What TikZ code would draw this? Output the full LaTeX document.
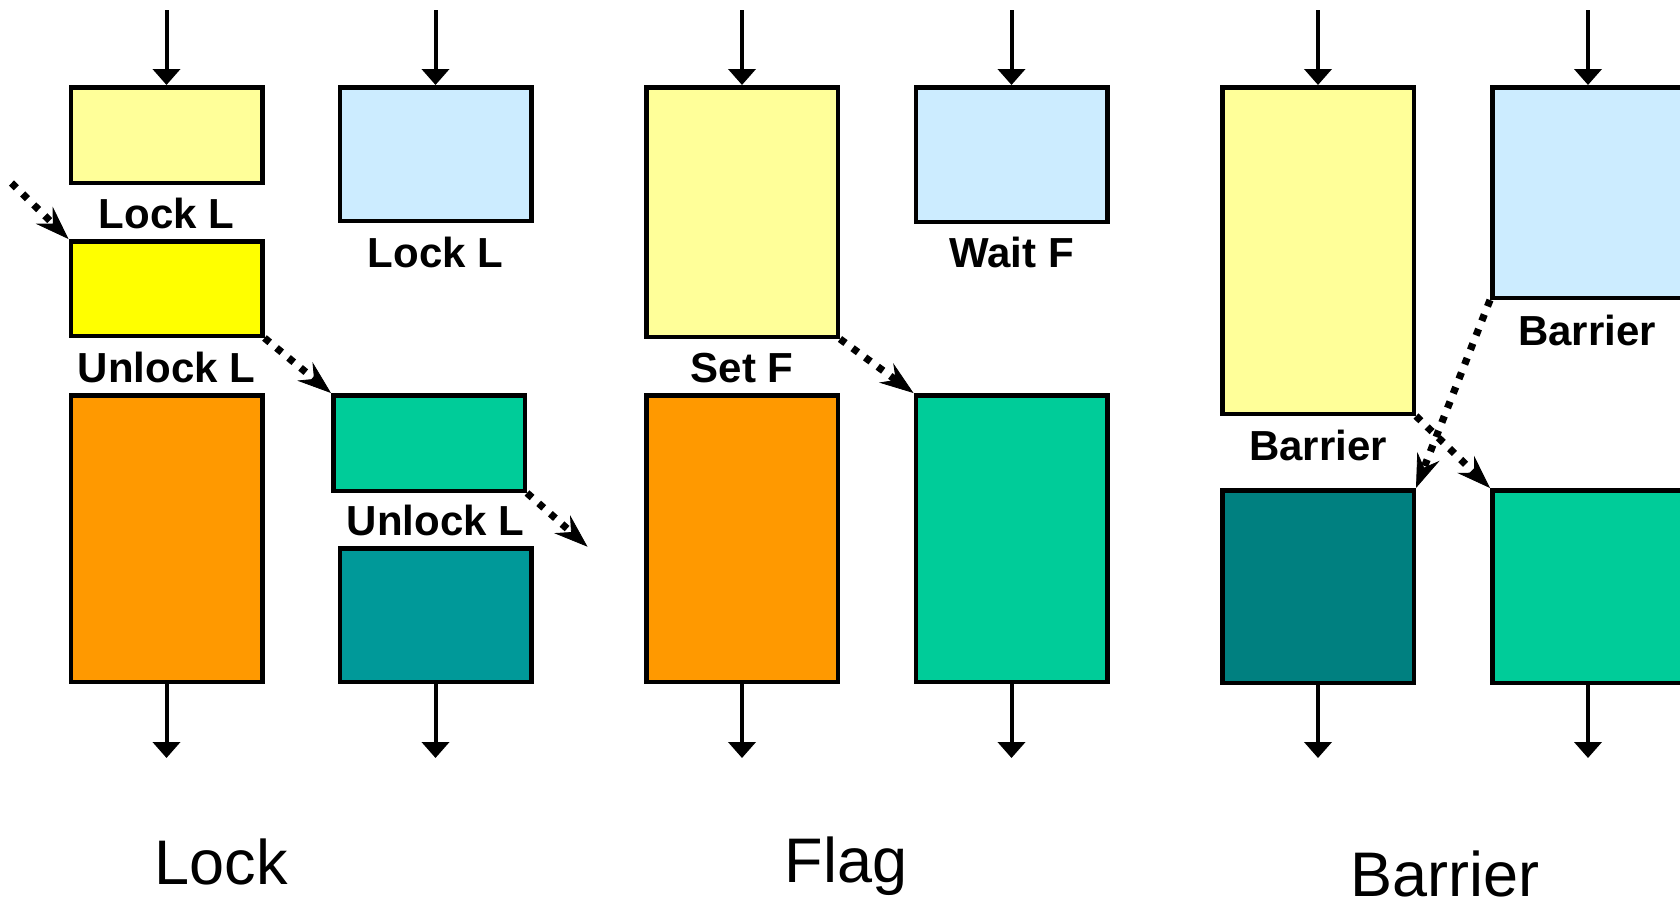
\documentclass[tikz,border=0pt]{standalone}
\usepackage{fontspec}
\setmainfont{Liberation Sans}
\usetikzlibrary{arrows.meta}

\definecolor{paleyellow}{HTML}{FFFF99}
\definecolor{brightyellow}{HTML}{FFFF00}
\definecolor{orangefill}{HTML}{FF9900}
\definecolor{paleblue}{HTML}{CCECFF}
\definecolor{seagreen}{HTML}{00CC99}
\definecolor{tealfill}{HTML}{009999}
\definecolor{darkteal}{HTML}{008080}

\tikzset{
  box/.style={draw=black, line width=2.25pt, inner sep=0pt, minimum width=95.75pt},
  flow/.style={line width=2pt, -{Triangle[width=13.5pt,length=8pt]}},
  sync/.style={line width=3.6pt, dash pattern=on 3.4pt off 4.4pt,
    -{Stealth[length=17pt,width=12pt,inset=6pt,line width=0.4pt]}},
  oplabel/.style={font=\bfseries\fontsize{21pt}{24pt}\selectfont, inner sep=0pt, anchor=base},
  title/.style={font=\fontsize{31.5pt}{36pt}\selectfont, inner sep=0pt, anchor=base}
}

\begin{document}
\begin{tikzpicture}[x=0.5pt, y=-0.5pt]
\useasboundingbox (0,0) rectangle (1680,901);

% ---------- Lock ----------
\node[box, fill=paleyellow,   minimum height=47.75pt]  (a1) at (166.5,135)   {};
\node[box, fill=brightyellow, minimum height=47.25pt]  (a2) at (166.5,288.5) {};
\node[box, fill=orangefill,   minimum height=143.25pt] (a3) at (166.5,538.5) {};
\node[box, fill=paleblue,     minimum height=66.75pt]  (b1) at (435.5,154)   {};
\node[box, fill=seagreen,     minimum height=47.75pt]  (b2) at (429,443)     {};
\node[box, fill=tealfill,     minimum height=66.75pt]  (b3) at (435.5,615)   {};

\node[oplabel] (la1) at (166.5,228) {Lock L};
\node[oplabel] (la2) at (166.5,382) {Unlock L};
\node[oplabel] (lb1) at (435.5,267) {Lock L};
\node[oplabel] (lb2) at (435.5,535) {Unlock L};

\coordinate (ain)  at (166.5,10);
\coordinate (aout) at (166.5,758);
\coordinate (bin)  at (435.5,10);
\coordinate (bout) at (435.5,758);
\draw[flow] (ain) -- (a1.north);
\draw[flow] (a3.south) -- (aout);
\draw[flow] (bin) -- (b1.north);
\draw[flow] (b3.south) -- (bout);

\coordinate (prev) at (11.5,183);
\coordinate (next) at (587.5,546.7);
\draw[sync] (prev) -- (a2.north west);
\draw[sync] (a2.south east) -- (b2.north west);
\draw[sync] (b2.south east) -- (next);

\node[title] (tlock) at (221,884) {Lock};

% ---------- Flag ----------
\node[box, fill=paleyellow, minimum height=124.75pt] (c1) at (742,212)     {};
\node[box, fill=orangefill, minimum height=143.25pt] (c2) at (742,538.5)   {};
\node[box, fill=paleblue,   minimum height=67.25pt]  (d1) at (1011.5,154.5) {};
\node[box, fill=seagreen,   minimum height=143.25pt] (d2) at (1011.5,538.5) {};

\node[oplabel] (lc1) at (742,382)    {Set F};
\node[oplabel] (ld1) at (1011.5,267) {Wait F};

\coordinate (cin)  at (742,10);
\coordinate (cout) at (742,758);
\coordinate (din)  at (1011.5,10);
\coordinate (dout) at (1011.5,758);
\draw[flow] (cin) -- (c1.north);
\draw[flow] (c2.south) -- (cout);
\draw[flow] (din) -- (d1.north);
\draw[flow] (d2.south) -- (dout);

\draw[sync] (c1.south east) -- (d2.north west);

\node[title] (tflag) at (846,882) {Flag};

% ---------- Barrier ----------
\node[box, fill=paleyellow, minimum height=163.25pt] (e1) at (1318,250.5) {};
\node[box, fill=darkteal,   minimum height=96.25pt]  (e2) at (1318,586.5) {};
\node[box, fill=paleblue,   minimum height=105.25pt] (f1) at (1588,192.5) {};
\node[box, fill=seagreen,   minimum height=96.25pt]  (f2) at (1588,586.5) {};

\node[oplabel] (le1) at (1318,460) {Barrier};
\node[oplabel] (lf1) at (1587,345) {Barrier};

\coordinate (ein)  at (1318,10);
\coordinate (eout) at (1318,758);
\coordinate (fin)  at (1588,10);
\coordinate (fout) at (1588,758);
\draw[flow] (ein) -- (e1.north);
\draw[flow] (e2.south) -- (eout);
\draw[flow] (fin) -- (f1.north);
\draw[flow] (f2.south) -- (fout);

\draw[sync] (f1.south west) -- (e2.north east);
\draw[sync] (e1.south east) -- (f2.north west);

\node[title] (tbarrier) at (1445,896) {Barrier};
\end{tikzpicture}
\end{document}
